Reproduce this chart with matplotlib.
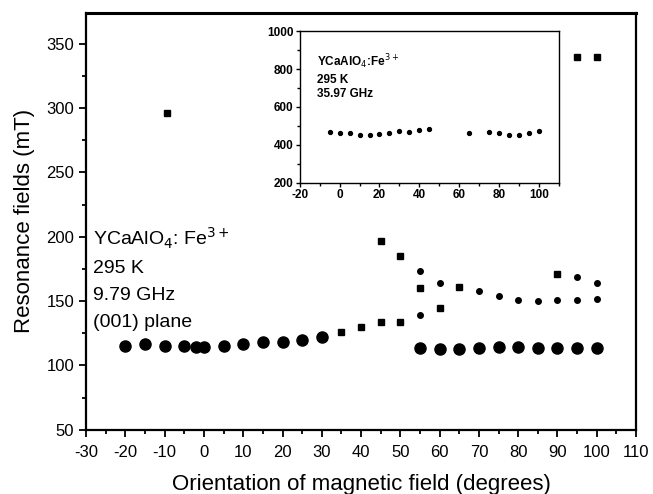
import matplotlib
matplotlib.use("Agg")
import matplotlib.pyplot as plt
from matplotlib.ticker import MultipleLocator

plt.rcParams['font.family'] = ['Liberation Sans', 'DejaVu Sans']
plt.rcParams['axes.unicode_minus'] = False

# main branch (large circles)
ang_big = [-20, -15, -10, -5, -2, 0, 5, 10, 15, 20, 25, 30,
           55, 60, 65, 70, 75, 80, 85, 90, 95, 100]
field_big = [115, 117, 115, 115, 114.5, 114, 115, 117, 118, 118, 120, 122,
             113.3, 113, 113, 113.3, 114, 114.7, 113.3, 113.7, 113.7, 113.7]

# squares
ang_sq = [-9.5, 35, 40, 45, 50, 45, 50, 55, 60, 65, 90, 95, 100]
field_sq = [296, 126, 130, 134, 134, 197, 185, 160, 145, 161, 171, 340, 340]

# small circles
ang_dot = [55, 55, 60, 70, 75, 80, 85, 90, 95, 95, 100, 100]
field_dot = [173, 139, 164, 158, 154, 151, 150, 151, 169, 151, 164, 152]

# inset, 35.97 GHz
ang_q = [-5, 0, 5, 10, 15, 20, 25, 30, 35, 40, 45, 65, 75, 80, 85, 90, 95, 100]
field_q = [470, 462, 460, 452, 452, 458, 464, 472, 470, 478, 482,
           461, 467, 460, 454, 451, 460, 474]

fig = plt.figure(figsize=(6.53, 4.94), dpi=100)
ax = fig.add_axes([0.132, 0.130, 0.842, 0.844])

ax.plot(ang_big, field_big, 'o', color='black', markersize=8, linestyle='none')
ax.plot(ang_sq, field_sq, 's', color='black', markersize=4, linestyle='none')
ax.plot(ang_dot, field_dot, 'o', color='black', markersize=4, linestyle='none')

ax.set_xlim(-30, 110)
ax.set_ylim(50, 374)
ax.xaxis.set_major_locator(MultipleLocator(10))
ax.xaxis.set_minor_locator(MultipleLocator(5))
ax.yaxis.set_major_locator(MultipleLocator(50))
ax.yaxis.set_minor_locator(MultipleLocator(25))
ax.tick_params(which='both', direction='out', labelsize=12, width=1.3)
ax.tick_params(which='major', length=5)
ax.tick_params(which='minor', length=3)
ax.tick_params(axis='x', pad=6)
for s in ax.spines.values():
    s.set_linewidth(1.6)
ax.spines['top'].set_linewidth(2.2)

ax.set_xlabel('Orientation of magnetic field (degrees)', fontsize=16, labelpad=10)
ax.set_ylabel('Resonance fields (mT)', fontsize=16, labelpad=8)

ax.text(0.012, 0.49, 'YCaAlO$_4$: Fe$^{3+}$\n295 K\n9.79 GHz\n(001) plane',
        transform=ax.transAxes, fontsize=14, va='top', ha='left',
        linespacing=1.75)

# inset
ins = fig.add_axes([0.459, 0.630, 0.397, 0.307])
ins.plot(ang_q, field_q, 'o', color='black', markersize=2.8, linestyle='none')
ins.set_xlim(-20, 110)
ins.set_ylim(200, 1000)
ins.xaxis.set_major_locator(MultipleLocator(20))
ins.xaxis.set_minor_locator(MultipleLocator(10))
ins.yaxis.set_major_locator(MultipleLocator(200))
ins.yaxis.set_minor_locator(MultipleLocator(100))
ins.tick_params(which='both', direction='out', labelsize=8.5, width=1, pad=1.5)
ins.tick_params(which='major', length=3)
ins.tick_params(which='minor', length=2)
for lab in ins.get_xticklabels() + ins.get_yticklabels():
    lab.set_fontweight('bold')
for s in ins.spines.values():
    s.set_linewidth(1)
ins.text(0.066, 0.86, 'YCaAlO$_4$:Fe$^{3+}$\n295 K\n35.97 GHz',
         transform=ins.transAxes, fontsize=8.5, fontweight='bold',
         va='top', ha='left', linespacing=1.3)

fig.savefig('out.png', dpi=100)
